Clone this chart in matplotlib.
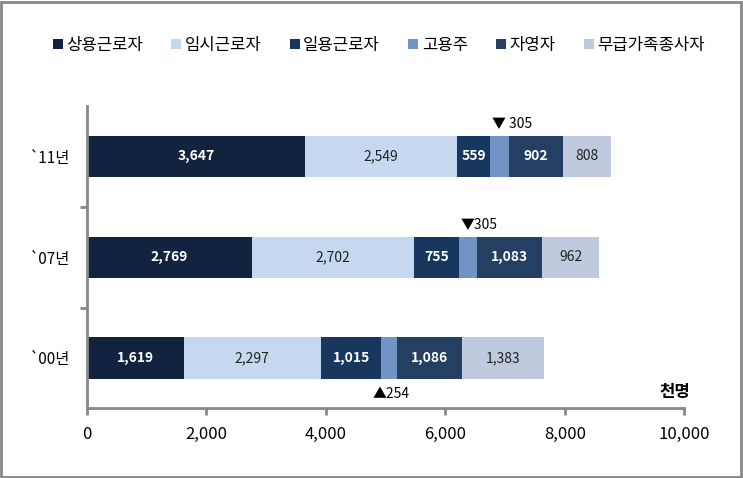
import numpy as np
import matplotlib.pyplot as plt
from matplotlib.patches import Rectangle
from matplotlib.ticker import FuncFormatter

plt.rcParams['font.family'] = ['Noto Sans CJK KR', 'DejaVu Sans']

years = ["`11년", "`07년", "`00년"]
series = ["상용근로자", "임시근로자", "일용근로자", "고용주", "자영자", "무급가족종사자"]
values = {
    "상용근로자": [3647, 2769, 1619],
    "임시근로자": [2549, 2702, 2297],
    "일용근로자": [559, 755, 1015],
    "고용주": [305, 305, 254],
    "자영자": [902, 1083, 1086],
    "무급가족종사자": [808, 962, 1383],
}
colors = ["#12233f", "#c6d8ef", "#17375e", "#7094c6", "#243f61", "#c0cade"]
text_colors = ["white", "#222222", "white", None, "white", "#222222"]
# annotation for 고용주 (too narrow to label inside)
emp_labels = ["▼ 305", "▼305", "▲254"]

fig = plt.figure(figsize=(7.43, 4.78), dpi=100)
ax = fig.add_axes([0.117, 0.146, 0.804, 0.632])

ypos = np.array([2, 1, 0])
bh = 0.41
left = np.zeros(3)
for s, c, tc in zip(series, colors, text_colors):
    v = np.array(values[s])
    ax.barh(ypos, v, left=left, height=bh, color=c, label=s, edgecolor='none')
    if tc is not None:
        for y, l, w in zip(ypos, left, v):
            ax.text(l + w / 2, y, f"{w:,}", ha='center', va='center',
                    color=tc, fontsize=10, fontweight='bold' if tc == 'white' else 'normal')
    else:
        for i, (y, l, w) in enumerate(zip(ypos, left, v)):
            cx = l + w / 2
            if emp_labels[i].startswith("▲"):
                ax.text(cx - 280, y - 0.36, emp_labels[i], ha='left', va='center', fontsize=10)
            else:
                ax.text(cx - 130, y + 0.33, emp_labels[i], ha='left', va='center', fontsize=10)
    left += v

ax.set_xlim(0, 10000)
ax.set_ylim(-0.5, 2.5)
ax.set_xticks(np.arange(0, 10001, 2000))
ax.xaxis.set_major_formatter(FuncFormatter(lambda x, p: f"{int(x):,}"))
ax.set_yticks(ypos)
ax.set_yticklabels(years, fontsize=11)
ax.set_yticks([0.5, 1.5], minor=True)
ax.tick_params(axis='y', which='major', length=0, pad=12)
ax.tick_params(axis='y', which='minor', length=5, width=2, color='#888888')
ax.tick_params(axis='x', length=5, width=2, color='#888888', labelsize=12, pad=8)
for sp in ['top', 'right']:
    ax.spines[sp].set_visible(False)
for sp in ['left', 'bottom']:
    ax.spines[sp].set_color('#888888')
    ax.spines[sp].set_linewidth(2)

ax.text(10100, -0.34, "천명", ha='right', va='center', fontsize=12, fontweight='bold')

handles, labels = ax.get_legend_handles_labels()
fig.legend(handles, labels, loc='center', bbox_to_anchor=(0.51, 0.905), ncol=6,
           frameon=False, fontsize=12, handlelength=0.6, handleheight=0.6,
           handletextpad=0.2, columnspacing=1.7)

fig.patches.append(Rectangle((0.002, 0.003), 0.995, 0.993, transform=fig.transFigure,
                             fill=False, edgecolor='#888888', linewidth=2))

fig.savefig('out.png', dpi=100)
